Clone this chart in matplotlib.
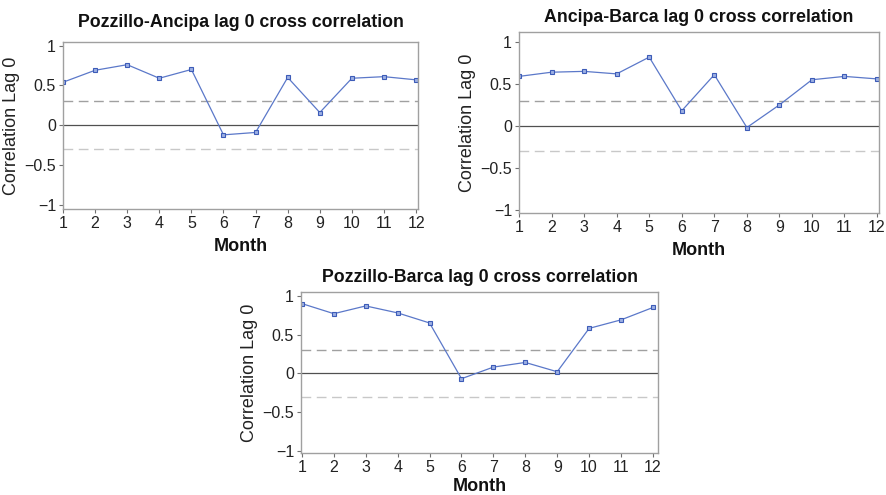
import matplotlib
matplotlib.use("Agg")
import matplotlib.pyplot as plt

months = list(range(1, 13))
month_labels = [str(m) for m in months]
titles = ["Pozzillo-Ancipa lag 0 cross correlation",
          "Ancipa-Barca lag 0 cross correlation",
          "Pozzillo-Barca lag 0 cross correlation"]
pozzillo_ancipa = [0.54, 0.69, 0.76, 0.59, 0.70, -0.12, -0.09, 0.60, 0.16, 0.59, 0.61, 0.57]
ancipa_barca = [0.59, 0.64, 0.65, 0.62, 0.82, 0.18, 0.61, -0.02, 0.25, 0.55, 0.59, 0.56]
pozzillo_barca = [0.90, 0.77, 0.87, 0.78, 0.65, -0.07, 0.08, 0.14, 0.02, 0.58, 0.69, 0.85]
series = [pozzillo_ancipa, ancipa_barca, pozzillo_barca]
upper_bound = 0.3
lower_bound = -0.3
yticks = [-1, -0.5, 0, 0.5, 1]
ytick_labels = ["\u22121", "\u22120.5", "0", "0.5", "1"]

plt.rcParams['font.family'] = ['Liberation Sans', 'DejaVu Sans']

fig = plt.figure(figsize=(8.86, 4.95), dpi=100)
rects = [
    [0.0711, 0.5778, 0.4007, 0.3374],
    [0.5858, 0.5697, 0.4063, 0.3657],
    [0.3397, 0.0848, 0.4030, 0.3253],
]
ylims = [(-1.05, 1.045), (-1.04, 1.12), (-1.03, 1.05)]
xlims = [(1.0, 12.06), (1.0, 12.06), (0.97, 12.16)]
title_pads = [11, 7, 7]
xlabel_pads = [5, 5, 2]
line_col = "#5b78c9"

for rect, title, vals, yl, xl, tp, xp in zip(rects, titles, series, ylims, xlims,
                                             title_pads, xlabel_pads):
    ax = fig.add_axes(rect)
    ax.axhline(upper_bound, color="#a0a0a0", lw=1.0, dashes=(7, 4))
    ax.axhline(lower_bound, color="#c8c8c8", lw=1.0, dashes=(7, 4))
    ax.axhline(0, color="#505050", lw=0.9)
    ax.plot(months, vals, color=line_col, lw=0.9, marker="s", ms=2.8,
            mfc="#9db0e3", mec="#3d5cb8", mew=0.8)
    ax.set_xlim(*xl)
    ax.set_ylim(*yl)
    ax.set_xticks(months)
    ax.set_xticklabels(month_labels)
    ax.set_yticks(yticks)
    ax.set_yticklabels(ytick_labels)
    for s in ax.spines.values():
        s.set_color("#a0a0a0")
        s.set_linewidth(1.0)
    ax.tick_params(axis="both", direction="out", length=3, width=0.8,
                   color="#707070", labelsize=11.5, labelcolor="#222222", pad=2)
    ax.set_title(title, fontsize=12.8, fontweight="bold", pad=tp, color="#111111")
    ax.set_xlabel("Month", fontsize=13, fontweight="bold", labelpad=xp, color="#111111")
    ax.set_ylabel("Correlation Lag 0", fontsize=13, labelpad=3, color="#222222")

fig.savefig("out.png", dpi=100)
